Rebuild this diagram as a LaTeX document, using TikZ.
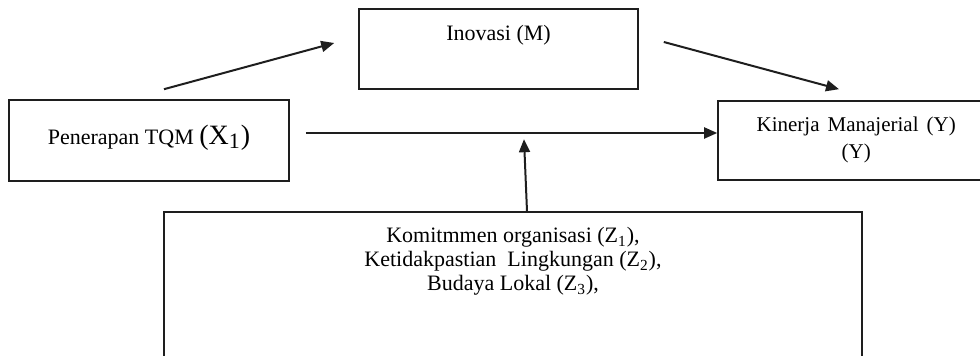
\documentclass[tikz,border=0pt]{standalone}
\usepackage{fontspec}
\setmainfont{Liberation Serif}
\usetikzlibrary{arrows.meta,positioning,calc}
\definecolor{linegray}{RGB}{30,30,30}

\begin{document}
\begin{tikzpicture}[
    x=0.5pt, y=-0.5pt,
    box/.style={rectangle, draw=linegray, line width=0.8pt, inner sep=0pt},
    arrow/.style={-{Triangle[length=6.5pt, width=5.5pt]}, line width=1pt, color=linegray},
    boxlabel/.style={font=\fontsize{11}{12}\selectfont, align=center, inner sep=0pt}
]
\useasboundingbox (0,0) rectangle (980,356);

% Boxes
\node[box, minimum width=140pt, minimum height=40.5pt] (pen) at (149,140.5) {};
\node[box, minimum width=139.5pt, minimum height=40pt] (ino) at (498.5,49) {};
\node[box, minimum width=170pt, minimum height=39.5pt] (kin) at (888,140.5) {};
\node[box, minimum width=349pt, minimum height=84pt] (kom) at (513,296) {};

% Labels
\node[boxlabel, below=12.5pt of pen.north] (pen-txt)
    {Penerapan TQM {\fontsize{14}{14}\selectfont(X\textsubscript{\fontsize{11}{11}\selectfont 1})}};
\node[boxlabel, below=8.5pt of ino.north] (ino-txt) {Inovasi (M)};
\node[boxlabel, font=\fontsize{10.5}{13.5}\selectfont, anchor=north]
    (kin-txt) at ([shift={(139,16)}]kin.north west)
    {Kinerja\hspace{4pt}Manajerial\hspace{4pt}(Y)\\(Y)};
\node[boxlabel, below=8pt of kom.north] (kom-txt)
    {Komitmmen organisasi (Z\textsubscript{1}),\\
     Ketidakpastian\ \ Lingkungan (Z\textsubscript{2}),\\
     Budaya Lokal (Z\textsubscript{3}),};

% Arrows
\draw[arrow] ([shift={(15,-10)}]pen.north) -- ([shift={(-24,-6)}]ino.west);
\draw[arrow] ([shift={(25,-7)}]ino.east) -- ([shift={(-49,-11)}]kin.north);
\draw[arrow] ([shift={(16,-7.5)}]pen.east) coordinate (hz) -- (kin.west |- hz);
\draw[arrow] ([shift={(14,0)}]kom.north) -- ([shift={(11,-72)}]kom.north);

\end{tikzpicture}
\end{document}
